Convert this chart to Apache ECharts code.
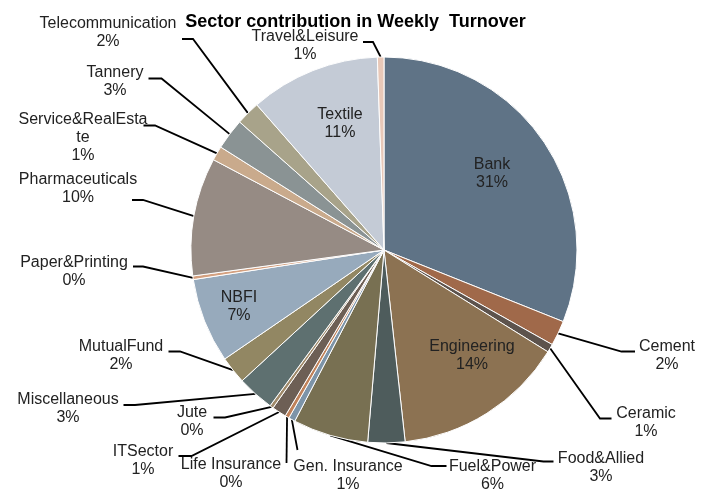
<!DOCTYPE html>
<html>
<head>
<meta charset="utf-8">
<script src="https://cdn.jsdelivr.net/npm/echarts@6/dist/echarts.min.js"></script>
<style>
  html, body { margin: 0; background: #fff; }
  #chart { width: 711px; height: 490px; }
</style>
</head>
<body>
<div id="chart"></div>
<script>
// sectors clockwise from 12 o'clock
var sectors = ['Bank', 'Cement', 'Ceramic', 'Engineering', 'Food&Allied', 'Fuel&Power',
  'Gen. Insurance', 'Life Insurance', 'ITSector', 'Jute', 'Miscellaneous', 'MutualFund',
  'NBFI', 'Paper&Printing', 'Pharmaceuticals', 'Service&RealEstate', 'Tannery',
  'Telecommunication', 'Textile', 'Travel&Leisure'];
// share of weekly turnover (%)
var turnover = [31.05, 2.1, 0.7, 14.4, 3.1, 6.3, 0.55, 0.35, 1.2, 0.3, 3.1, 2.3,
  7.1, 0.3, 9.9, 1.2, 2.6, 2.0, 10.9, 0.55];
var sectorColors = ['#5f7386', '#a0694a', '#5d534d', '#8c7252', '#4e5c5c', '#787052',
  '#7d94a8', '#c0825a', '#6d5f55', '#a08a6a', '#5e7070', '#928763',
  '#97aabc', '#d4a07f', '#968b84', '#c9aa8c', '#8a9394', '#a8a38a', '#c4cbd6', '#e8c8b8'];
var insideLabels = ['Bank', 'Engineering', 'Textile', 'NBFI'];

// where each label sits: [textX, textY, cornerX, cornerY, endX, endY]
var labelSpots = {
  'Bank': [492, 174],
  'Engineering': [472, 356],
  'Textile': [340, 123.5],
  'NBFI': [239, 306.5],
  'Travel&Leisure': [305, 45.5, 373, 42, 363, 42],
  'Telecommunication': [108, 33, 193, 39, 182, 39],
  'Tannery': [115, 81.5, 161.5, 78.5, 148.5, 78.5],
  'Service&RealEstate': [83, 138, 155, 125.5, 143.5, 125.5],
  'Pharmaceuticals': [78, 189, 143, 200, 132, 200],
  'Paper&Printing': [74, 272, 143, 266.5, 133, 266.5],
  'MutualFund': [121, 356, 180, 351.5, 168.5, 351.5],
  'Miscellaneous': [68, 408.5, 135, 405, 123.5, 405],
  'Jute': [192, 421.5, 225, 417.5, 213.5, 417.5],
  'ITSector': [143, 461, 191.5, 456, 178.5, 456],
  'Life Insurance': [231, 474, 286.5, 463, 286.5, 463],
  'Gen. Insurance': [348, 476, 297.5, 450, 297.5, 450],
  'Fuel&Power': [492.5, 476, 431.5, 466, 446.5, 466],
  'Food&Allied': [601, 467.5, 543.5, 461.5, 553.5, 461.5],
  'Ceramic': [646, 422.5, 600, 418.5, 611.5, 418.5],
  'Cement': [667, 356, 621.5, 351.5, 635, 351.5]
};

var font = 'Liberation Sans, Arial, sans-serif';

var pieData = sectors.map(function (name, i) {
  var inside = insideLabels.indexOf(name) >= 0;
  var item = {
    name: name,
    value: turnover[i],
    itemStyle: { color: sectorColors[i] },
    label: { position: inside ? 'inside' : 'outside' },
    labelLine: { show: !inside }
  };
  if (name === 'Service&RealEstate') {
    item.label.width = 131;
    item.label.overflow = 'breakAll';
  }
  return item;
});

var chart = echarts.init(document.getElementById('chart'));
chart.setOption({
  backgroundColor: '#fff',
  animation: false,
  title: {
    text: 'Sector contribution in Weekly  Turnover',
    left: 'center',
    top: 8,
    textStyle: { fontFamily: font, fontSize: 18, fontWeight: 'bold', color: '#000' }
  },
  series: [{
    type: 'pie',
    center: [384, 250],
    radius: [0, 193],
    startAngle: 90,
    clockwise: true,
    avoidLabelOverlap: false,
    itemStyle: { borderColor: '#fff', borderWidth: 1 },
    label: {
      formatter: function (p) { return p.name + '\n' + Math.round(p.percent) + '%'; },
      fontFamily: font,
      fontSize: 16,
      lineHeight: 18,
      color: '#222',
      align: 'center'
    },
    labelLine: {
      length: 10,
      length2: 10,
      lineStyle: { color: '#000', width: 1.8 }
    },
    labelLayout: function (params) {
      var name = sectors[params.dataIndex];
      var s = labelSpots[name];
      var out = { x: s[0], y: s[1], align: 'center', verticalAlign: 'middle' };
      if (s.length > 2 && params.labelLinePoints) {
        var p0 = params.labelLinePoints[0];
        out.labelLinePoints = [[p0[0], p0[1]], [s[2], s[3]], [s[4], s[5]]];
      }
      return out;
    },
    data: pieData
  }]
});
</script>
</body>
</html>
